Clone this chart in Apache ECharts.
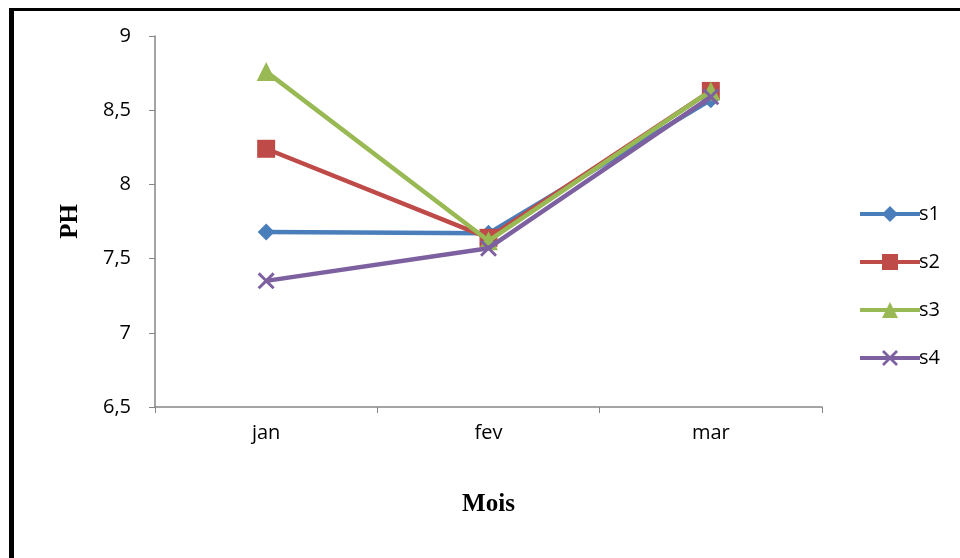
<!DOCTYPE html>
<html><head><meta charset="utf-8">
<script src="https://cdn.jsdelivr.net/npm/echarts@6/dist/echarts.min.js"></script>
<style>html,body{margin:0;padding:0;background:#fff}#c{width:960px;height:558px}</style>
</head><body><div id="c"></div>
<script>
const categories = ['jan', 'fev', 'mar'];
const s1 = [7.68, 7.67, 8.57];
const s2 = [8.24, 7.64, 8.63];
const s3 = [8.76, 7.62, 8.63];
const s4 = [7.35, 7.57, 8.59];
const seriesNames = ['s1', 's2', 's3', 's4'];
const yTicks = { min: 6.5, max: 9, interval: 0.5 };

const colors = ['#4A7EBB', '#BE4B48', '#98B954', '#7D60A0'];
const xPath = 'path://M0,1.2L1.2,0L5,3.8L8.8,0L10,1.2L6.2,5L10,8.8L8.8,10L5,6.2L1.2,10L0,8.8L3.8,5Z';
const symbols = ['diamond', 'rect', 'triangle', xPath];
const sizes = [17, 18, 19, 17];
const data = [s1, s2, s3, s4];

const chart = echarts.init(document.getElementById('c'), null, { renderer: 'canvas' });
chart.setOption({
  animation: false,
  backgroundColor: '#fff',
  color: colors,
  grid: { left: 155, right: 138, top: 36, bottom: 151 },
  graphic: [
    { type: 'rect', shape: { x: 9, y: 8, width: 951, height: 3 }, style: { fill: '#000' }, z: 100 },
    { type: 'rect', shape: { x: 9, y: 8, width: 5, height: 550 }, style: { fill: '#000' }, z: 100 }
  ],
  legend: {
    orient: 'vertical', left: 853, top: 199,
    itemWidth: 60, itemHeight: 20, itemGap: 28,
    lineStyle: { width: 4 },
    textStyle: { fontFamily: 'Open Sans', fontSize: 20, color: '#000', padding: [0, 0, 0, -6] },
    data: seriesNames
  },
  xAxis: {
    type: 'category', data: categories, boundaryGap: true,
    name: 'Mois', nameLocation: 'middle', nameGap: 85,
    nameTextStyle: { fontFamily: 'Liberation Serif', fontWeight: 'bold', fontSize: 25, color: '#000' },
    axisLine: { lineStyle: { color: '#868686', width: 1.5 } },
    axisTick: { show: true, length: 6, lineStyle: { color: '#868686' } },
    axisLabel: { fontFamily: 'Open Sans', fontSize: 20, color: '#000', margin: 16 }
  },
  yAxis: {
    type: 'value', min: yTicks.min, max: yTicks.max, interval: yTicks.interval,
    name: 'PH', nameLocation: 'middle', nameGap: 72,
    nameTextStyle: { fontFamily: 'Liberation Serif', fontWeight: 'bold', fontSize: 25, color: '#000' },
    axisLine: { show: true, lineStyle: { color: '#868686', width: 1.5 } },
    axisTick: { show: true, length: 6, lineStyle: { color: '#868686' } },
    splitLine: { show: false },
    axisLabel: { fontFamily: 'Open Sans', fontSize: 20, color: '#000', margin: 24,
      formatter: v => String(v).replace('.', ',') }
  },
  series: seriesNames.map((n, i) => ({
    name: n, type: 'line', data: data[i],
    symbol: symbols[i], symbolSize: sizes[i], showAllSymbol: true,
    lineStyle: { width: 4.5, color: colors[i] },
    itemStyle: { color: colors[i] },
    z: 2 + i
  }))
});
</script></body></html>
